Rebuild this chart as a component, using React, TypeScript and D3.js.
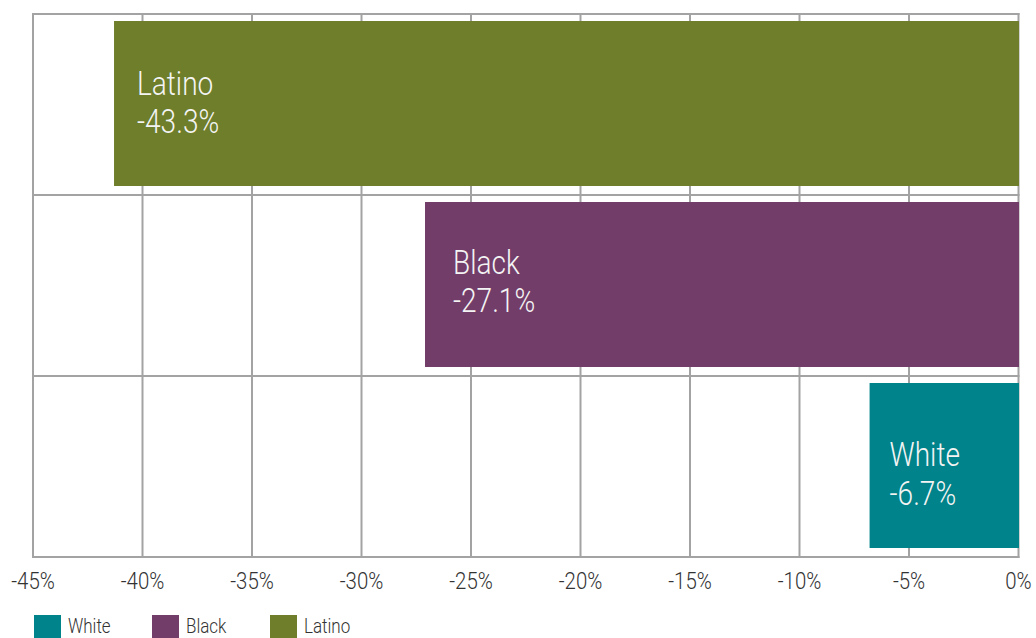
import React from "react";
import * as d3 from "d3";

const categories = ["Latino", "Black", "White"];
const barValues = [-41.3, -27.1, -6.8];
const labelTexts = ["-43.3%", "-27.1%", "-6.7%"];
const tickValues = [-45, -40, -35, -30, -25, -20, -15, -10, -5, 0];
const legendOrder = ["White", "Black", "Latino"];

const colors: Record<string, string> = {
  Latino: "#6e7e2a",
  Black: "#733d6a",
  White: "#00838a",
};
const labelShift: Record<string, { dx: number; dy: number }> = {
  Latino: { dx: 23, dy: -10 },
  Black: { dx: 28, dy: -12 },
  White: { dx: 20, dy: -0.5 },
};

const W = 1036;
const H = 638;
const FONT = "Roboto, 'Noto Sans', sans-serif";
const GRID = "#a3a3a3";
const SX = 0.85;

function CText(props: {
  x: number;
  y: number;
  size: number;
  fill: string;
  anchor?: string;
  children: React.ReactNode;
}) {
  return (
    <text
      transform={`translate(${props.x},${props.y}) scale(${SX},1)`}
      fontSize={props.size}
      fill={props.fill}
      fontWeight={300}
      textAnchor={props.anchor || "start"}
    >
      {props.children}
    </text>
  );
}

export default function App() {
  const left = 33;
  const right = 1018.5;
  const top = 14;
  const bottom = 557;

  const x = d3.scaleLinear().domain([-45, 0]).range([left, right]);
  const y = d3.scaleBand<string>().domain(categories).range([top, bottom]).padding(0);
  const step = y.bandwidth();
  const inset = step * 0.047;

  const legendX = d3.scalePoint<string>().domain(legendOrder).range([34, 270]);

  return (
    <svg
      width={W}
      height={H}
      style={{ position: "absolute", left: 0, top: 0, background: "#fff" }}
      fontFamily={FONT}
    >
      <rect x={0} y={0} width={W} height={H} fill="#fff" />
      {tickValues.map((t) => (
        <line key={"v" + t} x1={x(t)} x2={x(t)} y1={top - 1} y2={bottom + 1} stroke={GRID} strokeWidth={2} />
      ))}
      {[...categories.map((c) => y(c) as number), bottom].map((v, i) => (
        <line key={"h" + i} x1={left - 1} x2={right + 1} y1={v} y2={v} stroke={GRID} strokeWidth={2} />
      ))}
      {categories.map((c, i) => {
        const v = barValues[i];
        const by = (y(c) as number) + inset - 1.5;
        const bh = step - inset * 2 + 1;
        const x0 = x(v);
        const cy = (y(c) as number) + step / 2;
        const s = labelShift[c];
        return (
          <g key={c}>
            <rect x={x0} y={by} width={x(0) + 0.5 - x0} height={bh} fill={colors[c]} />
            <CText x={x0 + s.dx} y={cy + s.dy} size={33} fill="#f4f4f4">
              {c}
            </CText>
            <CText x={x0 + s.dx} y={cy + s.dy + 38.7} size={33} fill="#f4f4f4">
              {labelTexts[i]}
            </CText>
          </g>
        );
      })}
      {tickValues.map((t) => (
        <CText key={"t" + t} x={x(t)} y={589} size={24} fill="#333" anchor="middle">
          {t + "%"}
        </CText>
      ))}
      {legendOrder.map((c) => {
        const lx = legendX(c) as number;
        return (
          <g key={"lg" + c}>
            <rect x={lx} y={615} width={27} height={23} fill={colors[c]} />
            <CText x={lx + 34} y={633} size={20} fill="#333">
              {c}
            </CText>
          </g>
        );
      })}
    </svg>
  );
}
